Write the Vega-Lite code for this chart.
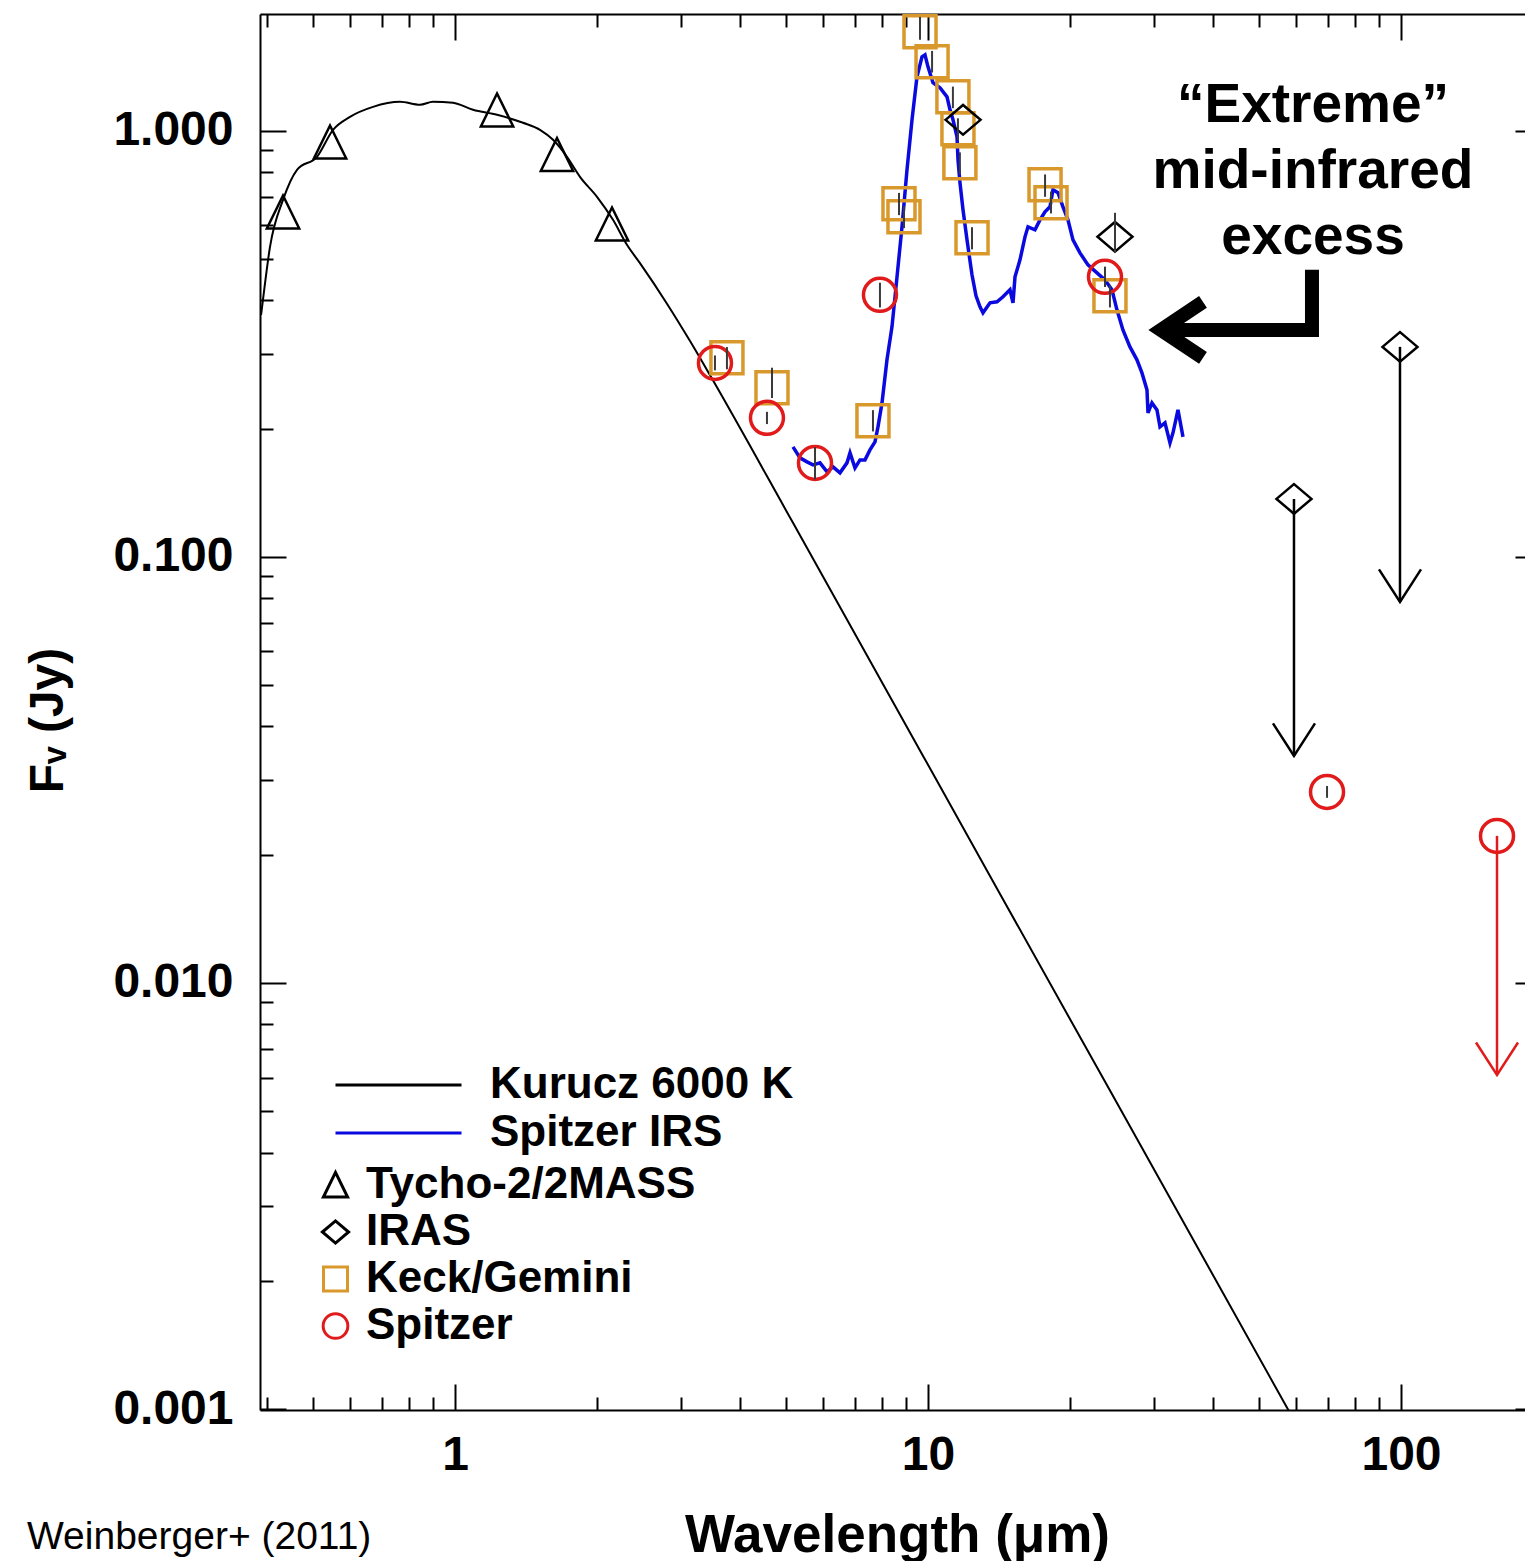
{
  "$schema": "https://vega.github.io/schema/vega-lite/v6.json",
  "width": 1265,
  "height": 1396,
  "autosize": {"type": "none"},
  "padding": {"left": 260, "top": 14, "right": 0, "bottom": 151},
  "background": "white",
  "title": {"text": "Weinberger+ (2011)", "orient": "bottom", "anchor": "start", "frame": "group", "offset": 0, "dx": -233, "dy": -13, "font": "Liberation Sans", "fontSize": 39, "fontWeight": "normal", "color": "black", "baseline": "alphabetic"},
  "datasets": {
    "kurucz": [
      {"model": "Kurucz 6000 K", "lam": 0.3890, "flux": 0.3699},
      {"model": "Kurucz 6000 K", "lam": 0.3926, "flux": 0.4011},
      {"model": "Kurucz 6000 K", "lam": 0.4063, "flux": 0.5341},
      {"model": "Kurucz 6000 K", "lam": 0.4329, "flux": 0.6887},
      {"model": "Kurucz 6000 K", "lam": 0.4634, "flux": 0.8100},
      {"model": "Kurucz 6000 K", "lam": 0.5108, "flux": 0.8690},
      {"model": "Kurucz 6000 K", "lam": 0.5522, "flux": 1.0054},
      {"model": "Kurucz 6000 K", "lam": 0.5998, "flux": 1.0786},
      {"model": "Kurucz 6000 K", "lam": 0.6709, "flux": 1.1384},
      {"model": "Kurucz 6000 K", "lam": 0.7648, "flux": 1.1697},
      {"model": "Kurucz 6000 K", "lam": 0.8433, "flux": 1.1509},
      {"model": "Kurucz 6000 K", "lam": 0.8985, "flux": 1.1697},
      {"model": "Kurucz 6000 K", "lam": 0.9903, "flux": 1.1634},
      {"model": "Kurucz 6000 K", "lam": 1.0916, "flux": 1.1201},
      {"model": "Kurucz 6000 K", "lam": 1.2271, "flux": 1.0903},
      {"model": "Kurucz 6000 K", "lam": 1.3925, "flux": 1.0442},
      {"model": "Kurucz 6000 K", "lam": 1.5125, "flux": 1.0054},
      {"model": "Kurucz 6000 K", "lam": 1.6116, "flux": 0.9525},
      {"model": "Kurucz 6000 K", "lam": 1.7249, "flux": 0.8690},
      {"model": "Kurucz 6000 K", "lam": 1.8374, "flux": 0.7798},
      {"model": "Kurucz 6000 K", "lam": 1.9963, "flux": 0.7001},
      {"model": "Kurucz 6000 K", "lam": 2.1580, "flux": 0.6181},
      {"model": "Kurucz 6000 K", "lam": 2.3096, "flux": 0.5401},
      {"model": "Kurucz 6000 K", "lam": 2.4607, "flux": 0.4891},
      {"model": "Kurucz 6000 K", "lam": 2.8065, "flux": 0.3929},
      {"model": "Kurucz 6000 K", "lam": 3.1398, "flux": 0.3210},
      {"model": "Kurucz 6000 K", "lam": 3.5127, "flux": 0.2593},
      {"model": "Kurucz 6000 K", "lam": 5.1829, "flux": 0.1202},
      {"model": "Kurucz 6000 K", "lam": 14.20, "flux": 0.01618},
      {"model": "Kurucz 6000 K", "lam": 58.26, "flux": 0.000979},
      {"model": "Kurucz 6000 K", "lam": 67.43, "flux": 0.000731}
    ],
    "irs": [
      {"model": "Spitzer IRS", "lam": 5.183, "flux": 0.18124},
      {"model": "Spitzer IRS", "lam": 5.363, "flux": 0.17077},
      {"model": "Spitzer IRS", "lam": 5.549, "flux": 0.16711},
      {"model": "Spitzer IRS", "lam": 5.713, "flux": 0.16443},
      {"model": "Spitzer IRS", "lam": 5.911, "flux": 0.16622},
      {"model": "Spitzer IRS", "lam": 6.116, "flux": 0.15837},
      {"model": "Spitzer IRS", "lam": 6.297, "flux": 0.16270},
      {"model": "Spitzer IRS", "lam": 6.515, "flux": 0.15751},
      {"model": "Spitzer IRS", "lam": 6.741, "flux": 0.16622},
      {"model": "Spitzer IRS", "lam": 6.841, "flux": 0.17544},
      {"model": "Spitzer IRS", "lam": 7.009, "flux": 0.16182},
      {"model": "Spitzer IRS", "lam": 7.182, "flux": 0.16893},
      {"model": "Spitzer IRS", "lam": 7.359, "flux": 0.16893},
      {"model": "Spitzer IRS", "lam": 7.540, "flux": 0.17833},
      {"model": "Spitzer IRS", "lam": 7.726, "flux": 0.18621},
      {"model": "Spitzer IRS", "lam": 7.839, "flux": 0.20190},
      {"model": "Spitzer IRS", "lam": 7.994, "flux": 0.22985},
      {"model": "Spitzer IRS", "lam": 8.190, "flux": 0.29013},
      {"model": "Spitzer IRS", "lam": 8.392, "flux": 0.34666},
      {"model": "Spitzer IRS", "lam": 8.600, "flux": 0.45428},
      {"model": "Spitzer IRS", "lam": 8.811, "flux": 0.59520},
      {"model": "Spitzer IRS", "lam": 9.028, "flux": 0.81000},
      {"model": "Spitzer IRS", "lam": 9.251, "flux": 1.0612},
      {"model": "Spitzer IRS", "lam": 9.478, "flux": 1.3390},
      {"model": "Spitzer IRS", "lam": 9.712, "flux": 1.4920},
      {"model": "Spitzer IRS", "lam": 9.855, "flux": 1.5082},
      {"model": "Spitzer IRS", "lam": 10.00, "flux": 1.4130},
      {"model": "Spitzer IRS", "lam": 10.246, "flux": 1.2966},
      {"model": "Spitzer IRS", "lam": 10.601, "flux": 1.2620},
      {"model": "Spitzer IRS", "lam": 10.970, "flux": 1.2017},
      {"model": "Spitzer IRS", "lam": 11.131, "flux": 1.1201},
      {"model": "Spitzer IRS", "lam": 11.295, "flux": 1.0612},
      {"model": "Spitzer IRS", "lam": 11.517, "flux": 0.96810},
      {"model": "Spitzer IRS", "lam": 11.573, "flux": 0.85488},
      {"model": "Spitzer IRS", "lam": 11.686, "flux": 0.75497},
      {"model": "Spitzer IRS", "lam": 11.858, "flux": 0.65262},
      {"model": "Spitzer IRS", "lam": 12.091, "flux": 0.55476},
      {"model": "Spitzer IRS", "lam": 12.389, "flux": 0.45921},
      {"model": "Spitzer IRS", "lam": 12.633, "flux": 0.41001},
      {"model": "Spitzer IRS", "lam": 12.881, "flux": 0.38627},
      {"model": "Spitzer IRS", "lam": 13.071, "flux": 0.37395},
      {"model": "Spitzer IRS", "lam": 13.524, "flux": 0.39467},
      {"model": "Spitzer IRS", "lam": 13.993, "flux": 0.39681},
      {"model": "Spitzer IRS", "lam": 14.407, "flux": 0.40777},
      {"model": "Spitzer IRS", "lam": 14.906, "flux": 0.42350},
      {"model": "Spitzer IRS", "lam": 15.126, "flux": 0.39467},
      {"model": "Spitzer IRS", "lam": 15.274, "flux": 0.45428},
      {"model": "Spitzer IRS", "lam": 15.650, "flux": 0.49795},
      {"model": "Spitzer IRS", "lam": 16.035, "flux": 0.56382},
      {"model": "Spitzer IRS", "lam": 16.271, "flux": 0.59520},
      {"model": "Spitzer IRS", "lam": 16.835, "flux": 0.58563},
      {"model": "Spitzer IRS", "lam": 17.250, "flux": 0.61805},
      {"model": "Spitzer IRS", "lam": 17.675, "flux": 0.64535},
      {"model": "Spitzer IRS", "lam": 18.110, "flux": 0.66302},
      {"model": "Spitzer IRS", "lam": 18.376, "flux": 0.72712},
      {"model": "Spitzer IRS", "lam": 18.829, "flux": 0.71543},
      {"model": "Spitzer IRS", "lam": 19.293, "flux": 0.66302},
      {"model": "Spitzer IRS", "lam": 19.767, "flux": 0.61805},
      {"model": "Spitzer IRS", "lam": 20.254, "flux": 0.55476},
      {"model": "Spitzer IRS", "lam": 20.955, "flux": 0.51706},
      {"model": "Spitzer IRS", "lam": 21.788, "flux": 0.48455},
      {"model": "Spitzer IRS", "lam": 22.764, "flux": 0.46416},
      {"model": "Spitzer IRS", "lam": 23.668, "flux": 0.44697},
      {"model": "Spitzer IRS", "lam": 24.488, "flux": 0.42350},
      {"model": "Spitzer IRS", "lam": 25.091, "flux": 0.38004},
      {"model": "Spitzer IRS", "lam": 25.834, "flux": 0.34096},
      {"model": "Spitzer IRS", "lam": 26.730, "flux": 0.31110},
      {"model": "Spitzer IRS", "lam": 27.656, "flux": 0.29013},
      {"model": "Spitzer IRS", "lam": 28.337, "flux": 0.27029},
      {"model": "Spitzer IRS", "lam": 29.040, "flux": 0.24660},
      {"model": "Spitzer IRS", "lam": 29.182, "flux": 0.21778},
      {"model": "Spitzer IRS", "lam": 29.754, "flux": 0.22985},
      {"model": "Spitzer IRS", "lam": 30.488, "flux": 0.22133},
      {"model": "Spitzer IRS", "lam": 30.938, "flux": 0.20190},
      {"model": "Spitzer IRS", "lam": 31.699, "flux": 0.20633},
      {"model": "Spitzer IRS", "lam": 32.480, "flux": 0.18520},
      {"model": "Spitzer IRS", "lam": 32.958, "flux": 0.19547},
      {"model": "Spitzer IRS", "lam": 33.770, "flux": 0.22133},
      {"model": "Spitzer IRS", "lam": 34.602, "flux": 0.19129}
    ],
    "phot": [
      {"inst": "Keck/Gemini", "lam": 3.758, "flux": 0.2932, "lo": 0.2756, "hi": 0.3108},
      {"inst": "Keck/Gemini", "lam": 4.679, "flux": 0.2493, "lo": 0.236, "hi": 0.278},
      {"inst": "Keck/Gemini", "lam": 7.650, "flux": 0.2086, "lo": 0.197, "hi": 0.221},
      {"inst": "Keck/Gemini", "lam": 8.683, "flux": 0.6741, "lo": 0.634, "hi": 0.715},
      {"inst": "Keck/Gemini", "lam": 8.897, "flux": 0.6283, "lo": 0.591, "hi": 0.666},
      {"inst": "Keck/Gemini", "lam": 9.619, "flux": 1.708, "lo": 1.636, "hi": 1.851},
      {"inst": "Keck/Gemini", "lam": 10.20, "flux": 1.452, "lo": 1.37, "hi": 1.54},
      {"inst": "Keck/Gemini", "lam": 11.29, "flux": 1.202, "lo": 1.13, "hi": 1.27},
      {"inst": "Keck/Gemini", "lam": 11.57, "flux": 1.011, "lo": 0.95, "hi": 1.07},
      {"inst": "Keck/Gemini", "lam": 11.68, "flux": 0.8411, "lo": 0.79, "hi": 0.89},
      {"inst": "Keck/Gemini", "lam": 12.39, "flux": 0.5608, "lo": 0.527, "hi": 0.594},
      {"inst": "Keck/Gemini", "lam": 17.68, "flux": 0.7469, "lo": 0.70, "hi": 0.79},
      {"inst": "Keck/Gemini", "lam": 18.20, "flux": 0.6776, "lo": 0.64, "hi": 0.72},
      {"inst": "Keck/Gemini", "lam": 24.25, "flux": 0.4099, "lo": 0.385, "hi": 0.435},
      {"inst": "Spitzer", "lam": 3.545, "flux": 0.2853, "lo": 0.274, "hi": 0.297},
      {"inst": "Spitzer", "lam": 4.566, "flux": 0.2120, "lo": 0.205, "hi": 0.219},
      {"inst": "Spitzer", "lam": 5.769, "flux": 0.1662, "lo": 0.152, "hi": 0.181},
      {"inst": "Spitzer", "lam": 7.915, "flux": 0.4121, "lo": 0.385, "hi": 0.44},
      {"inst": "Spitzer", "lam": 23.67, "flux": 0.4543, "lo": 0.43, "hi": 0.48},
      {"inst": "Spitzer", "lam": 69.77, "flux": 0.02808, "lo": 0.0272, "hi": 0.0290},
      {"inst": "Spitzer", "lam": 159.6, "flux": 0.02214},
      {"inst": "Tycho-2/2MASS", "lam": 0.4329, "flux": 0.6437},
      {"inst": "Tycho-2/2MASS", "lam": 0.5442, "flux": 0.9397},
      {"inst": "Tycho-2/2MASS", "lam": 1.2271, "flux": 1.1171},
      {"inst": "Tycho-2/2MASS", "lam": 1.6429, "flux": 0.8784},
      {"inst": "Tycho-2/2MASS", "lam": 2.1476, "flux": 0.6033},
      {"inst": "IRAS", "lam": 11.86, "flux": 1.061},
      {"inst": "IRAS", "lam": 24.85, "flux": 0.5639, "lo": 0.517, "hi": 0.642},
      {"inst": "IRAS", "lam": 59.40, "flux": 0.1368},
      {"inst": "IRAS", "lam": 99.52, "flux": 0.3111}
    ],
    "limits": [
      {"inst": "IRAS", "lam": 59.40, "flux": 0.1368, "tip": 0.03410},
      {"inst": "IRAS", "lam": 99.52, "flux": 0.3111, "tip": 0.07842},
      {"inst": "Spitzer", "lam": 159.6, "flux": 0.02214, "tip": 0.006081}
    ],
    "annot": [
      {"part": "shaft", "idx": 0, "lam": 64.84, "flux": 0.47181},
      {"part": "shaft", "idx": 1, "lam": 64.84, "flux": 0.34096},
      {"part": "shaft", "idx": 2, "lam": 31.70, "flux": 0.34096},
      {"part": "head", "idx": 0, "lam": 38.14, "flux": 0.39681},
      {"part": "head", "idx": 1, "lam": 31.09, "flux": 0.34096},
      {"part": "head", "idx": 2, "lam": 38.14, "flux": 0.29322}
    ]
  },
  "layer": [
    {
      "data": {"name": "kurucz"},
      "mark": {"type": "line", "clip": true, "strokeWidth": 2, "interpolate": "monotone"},
      "encoding": {
        "x": {"field": "lam", "type": "quantitative", "scale": {"type": "log", "domain": [0.387, 182.9], "nice": false},
          "axis": {"orient": "bottom", "values": [1, 10, 100], "format": ".0f", "tickSize": -26, "tickWidth": 2, "tickColor": "black", "domain": true, "domainWidth": 2, "domainColor": "black", "labelFont": "Liberation Sans", "labelFontSize": 48, "labelFontWeight": "bold", "labelColor": "black", "labelPadding": 47, "labelFlush": false, "labelOverlap": false, "grid": false, "title": "Wavelength (μm)", "titleFont": "Liberation Sans", "titleFontSize": 53, "titleFontWeight": "bold", "titleColor": "black", "titleX": 637, "titleY": 141, "titleBaseline": "alphabetic", "titleAlign": "center"}},
        "y": {"field": "flux", "type": "quantitative", "scale": {"type": "log", "domain": [0.000995, 1.88], "nice": false},
          "axis": {"orient": "left", "values": [0.001, 0.01, 0.1, 1], "format": ".3f", "tickSize": -26, "tickWidth": 2, "tickColor": "black", "domain": true, "domainWidth": 2, "domainColor": "black", "labelFont": "Liberation Sans", "labelFontSize": 48, "labelFontWeight": "bold", "labelColor": "black", "labelPadding": 53, "labelOverlap": false, "grid": false, "title": "Fᵥ (Jy)", "titleFont": "Liberation Sans", "titleFontSize": 48, "titleFontWeight": "bold", "titleColor": "black", "titleX": -198, "titleY": 706, "titleAngle": 270, "titleAlign": "center", "titleBaseline": "alphabetic"}},
        "stroke": {"field": "model", "type": "nominal", "scale": {"domain": ["Kurucz 6000 K", "Spitzer IRS"], "range": ["black", "#0a0ae0"]},
          "legend": {"orient": "none", "legendX": 74, "legendY": 1047, "title": null, "symbolType": "stroke", "symbolSize": 15876, "symbolStrokeWidth": 3, "clipHeight": 48, "rowPadding": 0, "padding": 0, "labelOffset": 27, "labelFont": "Liberation Sans", "labelFontSize": 44, "labelFontWeight": "bold", "labelColor": "black", "labelLimit": 1000}}
      }
    },
    {
      "data": {"name": "irs"},
      "mark": {"type": "line", "clip": true, "strokeWidth": 3.5},
      "encoding": {
        "x": {"field": "lam", "type": "quantitative", "scale": {"type": "log", "domain": [0.387, 182.9], "nice": false},
          "axis": {"orient": "bottom", "values": [0.4, 0.5, 0.6, 0.7, 0.8, 0.9, 2, 3, 4, 5, 6, 7, 8, 9, 20, 30, 40, 50, 60, 70, 80, 90], "tickSize": -13, "tickWidth": 2, "tickColor": "black", "domain": false, "labels": false, "grid": false, "title": null}},
        "y": {"field": "flux", "type": "quantitative", "scale": {"type": "log", "domain": [0.000995, 1.88], "nice": false},
          "axis": {"orient": "left", "values": [0.002, 0.003, 0.004, 0.005, 0.006, 0.007, 0.008, 0.009, 0.02, 0.03, 0.04, 0.05, 0.06, 0.07, 0.08, 0.09, 0.2, 0.3, 0.4, 0.5, 0.6, 0.7, 0.8, 0.9], "tickSize": -13, "tickWidth": 2, "tickColor": "black", "domain": false, "labels": false, "grid": false, "title": null}},
        "stroke": {"field": "model", "type": "nominal", "scale": {"domain": ["Kurucz 6000 K", "Spitzer IRS"], "range": ["black", "#0a0ae0"]}, "legend": null}
      }
    },
    {
      "data": {"name": "phot"},
      "transform": [{"filter": "datum.inst == 'Keck/Gemini' || datum.inst == 'Spitzer'"}],
      "mark": {"type": "point", "filled": false, "strokeWidth": 3.5, "size": 1089, "opacity": 1},
      "encoding": {
        "x": {"field": "lam", "type": "quantitative", "scale": {"type": "log", "domain": [0.387, 182.9], "nice": false},
          "axis": {"orient": "top", "values": [1, 10, 100], "tickSize": -26, "tickWidth": 2, "tickColor": "black", "domain": true, "domainWidth": 2, "domainColor": "black", "labels": false, "grid": false, "title": null}},
        "y": {"field": "flux", "type": "quantitative", "scale": {"type": "log", "domain": [0.000995, 1.88], "nice": false},
          "axis": {"orient": "right", "offset": 16, "values": [0.001, 0.01, 0.1, 1], "tickSize": -26, "tickWidth": 2, "tickColor": "black", "domain": true, "domainWidth": 2, "domainColor": "black", "labels": false, "grid": false, "title": null}},
        "color": {"field": "inst", "type": "nominal", "scale": {"domain": ["Tycho-2/2MASS", "IRAS", "Keck/Gemini", "Spitzer"], "range": ["black", "black", "#D9982C", "#E11B1B"]},
          "legend": {"orient": "none", "legendX": 53.5, "legendY": 1147.5, "title": null, "symbolSize": 610, "symbolStrokeWidth": 3, "clipHeight": 47, "rowPadding": 0, "padding": 0, "labelOffset": 8.5, "labelFont": "Liberation Sans", "labelFontSize": 44, "labelFontWeight": "bold", "labelColor": "black", "labelLimit": 1000}},
        "shape": {"field": "inst", "type": "nominal", "scale": {"domain": ["Tycho-2/2MASS", "IRAS", "Keck/Gemini", "Spitzer"], "range": ["M0,-1.02L-0.98,0.98L0.98,0.98Z", "M-1.06,0L0,-0.9L1.06,0L0,0.9Z", "M-0.97,-0.97L0.97,-0.97L0.97,0.97L-0.97,0.97Z", "circle"]},
          "legend": {"orient": "none", "legendX": 53.5, "legendY": 1147.5, "title": null, "symbolSize": 610, "symbolStrokeWidth": 3, "clipHeight": 47, "rowPadding": 0, "padding": 0, "labelOffset": 8.5, "labelFont": "Liberation Sans", "labelFontSize": 44, "labelFontWeight": "bold", "labelColor": "black", "labelLimit": 1000}}
      }
    },
    {
      "data": {"name": "phot"},
      "transform": [{"filter": "datum.inst == 'Tycho-2/2MASS' || datum.inst == 'IRAS'"}],
      "mark": {"type": "point", "filled": false, "strokeWidth": 2.5, "size": 1089, "opacity": 1},
      "encoding": {
        "x": {"field": "lam", "type": "quantitative", "scale": {"type": "log", "domain": [0.387, 182.9], "nice": false},
          "axis": {"orient": "top", "values": [0.4, 0.5, 0.6, 0.7, 0.8, 0.9, 2, 3, 4, 5, 6, 7, 8, 9, 20, 30, 40, 50, 60, 70, 80, 90], "tickSize": -13, "tickWidth": 2, "tickColor": "black", "domain": false, "labels": false, "grid": false, "title": null}},
        "y": {"field": "flux", "type": "quantitative", "scale": {"type": "log", "domain": [0.000995, 1.88], "nice": false},
          "axis": {"orient": "right", "offset": 16, "values": [0.002, 0.003, 0.004, 0.005, 0.006, 0.007, 0.008, 0.009, 0.02, 0.03, 0.04, 0.05, 0.06, 0.07, 0.08, 0.09, 0.2, 0.3, 0.4, 0.5, 0.6, 0.7, 0.8, 0.9], "tickSize": -13, "tickWidth": 2, "tickColor": "black", "domain": false, "labels": false, "grid": false, "title": null}},
        "color": {"field": "inst", "type": "nominal", "scale": {"domain": ["Tycho-2/2MASS", "IRAS", "Keck/Gemini", "Spitzer"], "range": ["black", "black", "#D9982C", "#E11B1B"]}, "legend": null},
        "shape": {"field": "inst", "type": "nominal", "scale": {"domain": ["Tycho-2/2MASS", "IRAS", "Keck/Gemini", "Spitzer"], "range": ["M0,-1.02L-0.98,0.98L0.98,0.98Z", "M-1.06,0L0,-0.9L1.06,0L0,0.9Z", "M-0.97,-0.97L0.97,-0.97L0.97,0.97L-0.97,0.97Z", "circle"]}, "legend": null}
      }
    },
    {
      "data": {"name": "phot"},
      "transform": [{"filter": "isValid(datum.lo)"}],
      "mark": {"type": "rule", "strokeWidth": 2, "color": "#3a3a3a"},
      "encoding": {
        "x": {"field": "lam", "type": "quantitative", "scale": {"type": "log", "domain": [0.387, 182.9], "nice": false}, "axis": null},
        "y": {"field": "lo", "type": "quantitative", "scale": {"type": "log", "domain": [0.000995, 1.88], "nice": false}, "axis": null},
        "y2": {"field": "hi"}
      }
    },
    {
      "data": {"name": "limits"},
      "mark": {"type": "rule", "strokeWidth": 2.5},
      "encoding": {
        "x": {"field": "lam", "type": "quantitative", "scale": {"type": "log", "domain": [0.387, 182.9], "nice": false}, "axis": null},
        "y": {"field": "flux", "type": "quantitative", "scale": {"type": "log", "domain": [0.000995, 1.88], "nice": false}, "axis": null},
        "y2": {"field": "tip"},
        "color": {"field": "inst", "type": "nominal", "scale": {"domain": ["Tycho-2/2MASS", "IRAS", "Keck/Gemini", "Spitzer"], "range": ["black", "black", "#D9982C", "#E11B1B"]}, "legend": null}
      }
    },
    {
      "data": {"name": "limits"},
      "mark": {"type": "point", "filled": false, "strokeWidth": 2.5, "size": 1764, "shape": "M-1,-1.55L0,0L1,-1.55", "opacity": 1},
      "encoding": {
        "x": {"field": "lam", "type": "quantitative", "scale": {"type": "log", "domain": [0.387, 182.9], "nice": false}, "axis": null},
        "y": {"field": "tip", "type": "quantitative", "scale": {"type": "log", "domain": [0.000995, 1.88], "nice": false}, "axis": null},
        "color": {"field": "inst", "type": "nominal", "scale": {"domain": ["Tycho-2/2MASS", "IRAS", "Keck/Gemini", "Spitzer"], "range": ["black", "black", "#D9982C", "#E11B1B"]}, "legend": null}
      }
    },
    {
      "data": {"name": "annot"},
      "mark": {"type": "line", "strokeWidth": 14, "strokeJoin": "miter", "strokeCap": "butt", "color": "black"},
      "encoding": {
        "x": {"field": "lam", "type": "quantitative", "scale": {"type": "log", "domain": [0.387, 182.9], "nice": false}, "axis": null},
        "y": {"field": "flux", "type": "quantitative", "scale": {"type": "log", "domain": [0.000995, 1.88], "nice": false}, "axis": null},
        "detail": {"field": "part", "type": "nominal"},
        "order": {"field": "idx", "type": "quantitative"}
      }
    },
    {
      "data": {"values": [{}]},
      "mark": {"type": "text", "text": ["“Extreme”", "mid-infrared", "excess"], "font": "Liberation Sans", "fontSize": 55, "fontWeight": "bold", "color": "black", "align": "center", "baseline": "alphabetic", "lineHeight": 66},
      "encoding": {
        "x": {"datum": 65.16, "type": "quantitative", "scale": {"type": "log", "domain": [0.387, 182.9], "nice": false}, "axis": null},
        "y": {"datum": 1.0499, "type": "quantitative", "scale": {"type": "log", "domain": [0.000995, 1.88], "nice": false}, "axis": null}
      }
    }
  ],
  "resolve": {"axis": {"x": "independent", "y": "independent"}},
  "config": {"view": {"stroke": null}, "font": "Liberation Sans", "axis": {"grid": false}}
}
